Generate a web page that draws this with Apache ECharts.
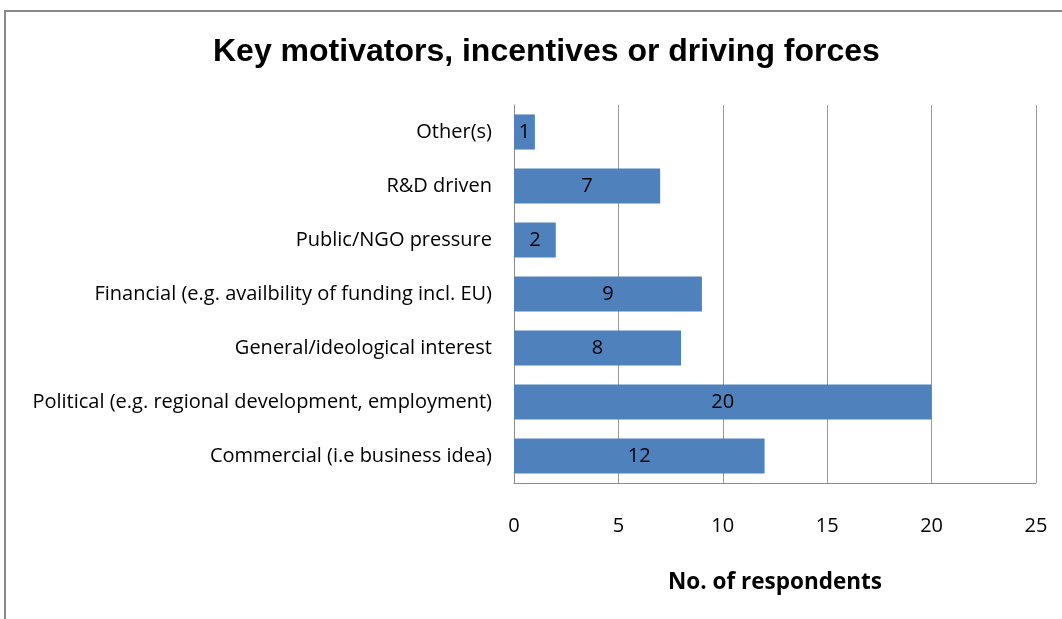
<!DOCTYPE html>
<html>
<head>
<meta charset="utf-8">
<script src="https://cdn.jsdelivr.net/npm/echarts@6/dist/echarts.min.js"></script>
<style>
  html, body { margin: 0; padding: 0; background: #fff; }
  #chart { width: 1062px; height: 619px; }
  #frame { position: absolute; left: 4px; top: 10px; width: 1100px; height: 700px;
           border-top: 2px solid #888; border-left: 2px solid #888; pointer-events: none; }
</style>
</head>
<body>
<div id="chart"></div>
<div id="frame"></div>
<script>
// Categories listed bottom to top, as the y axis draws them
const categories = [
  'Commercial (i.e business idea)',
  'Political (e.g. regional development, employment)',
  'General/ideological interest',
  'Financial (e.g. availbility of funding incl. EU)',
  'Public/NGO pressure',
  'R&D driven',
  'Other(s)'
];
const respondents = [12, 20, 8, 9, 2, 7, 1];
const xTicks = { min: 0, max: 25, step: 5 };

const bodyFont = 'Open Sans, Noto Sans, sans-serif';

const chart = echarts.init(document.getElementById('chart'), null, { renderer: 'canvas' });
chart.setOption({
  animation: false,
  backgroundColor: '#fff',
  title: {
    text: 'Key motivators, incentives or driving forces',
    left: 208,
    top: 31,
    textStyle: {
      fontFamily: 'Liberation Sans, Arial, sans-serif',
      fontSize: 32,
      fontWeight: 'bold',
      color: '#000'
    }
  },
  grid: { left: 514, right: 26, top: 105, bottom: 136 },
  xAxis: {
    type: 'value',
    min: xTicks.min,
    max: xTicks.max,
    interval: xTicks.step,
    name: 'No. of respondents',
    nameLocation: 'middle',
    nameGap: 88,
    nameTextStyle: {
      fontFamily: bodyFont,
      fontSize: 22.5,
      fontWeight: 'bold',
      color: '#000'
    },
    axisLine: { show: true, lineStyle: { color: '#8c8c8c', width: 1 } },
    axisTick: { show: false },
    axisLabel: {
      margin: 33,
      fontFamily: bodyFont,
      fontSize: 20,
      color: '#000'
    },
    splitLine: { show: true, lineStyle: { color: '#9a9a9a', width: 1 } }
  },
  yAxis: {
    type: 'category',
    data: categories,
    axisLine: { show: true, lineStyle: { color: '#8c8c8c', width: 1 } },
    axisTick: { show: false },
    axisLabel: {
      margin: 22,
      fontFamily: bodyFont,
      fontSize: 20,
      color: '#000'
    }
  },
  series: [{
    type: 'bar',
    data: respondents,
    barCategoryGap: '35%',
    itemStyle: { color: '#4f81bd' },
    label: {
      show: true,
      position: 'inside',
      fontFamily: bodyFont,
      fontSize: 20,
      color: '#000'
    }
  }]
});
</script>
</body>
</html>
